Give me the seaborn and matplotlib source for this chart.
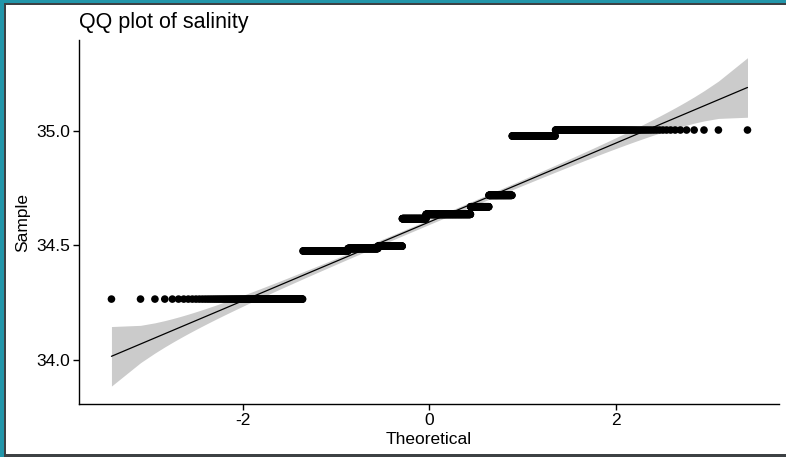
import numpy as np
import pandas as pd
import matplotlib
matplotlib.use("Agg")
import matplotlib.pyplot as plt
import seaborn as sns
from statistics import NormalDist
from matplotlib.patches import Rectangle

# ---- data ----
salinity_levels = [34.266, 34.476, 34.487, 34.497, 34.617, 34.636, 34.669, 34.719, 34.978, 35.004]
level_counts = [135, 161, 154, 147, 155, 287, 105, 115, 154, 137]
x_ticks = [-2, 0, 2]
y_ticks = [34.0, 34.5, 35.0]
title_text = "QQ plot of salinity"
x_label = "Theoretical"
y_label = "Sample"
conf_level = 0.95

# ---- QQ computations (as ggpubr::ggqqplot) ----
sample = np.sort(np.repeat(salinity_levels, level_counts))
n = len(sample)
P = (np.arange(1, n + 1) - 0.5) / n
nd = NormalDist()
z = np.array([nd.inv_cdf(p) for p in P])
q1, q3 = np.quantile(sample, [0.25, 0.75])
z1, z3 = nd.inv_cdf(0.25), nd.inv_cdf(0.75)
slope = (q3 - q1) / (z3 - z1)
intercept = q1 - slope * z1
fit = intercept + slope * z
dens = np.exp(-z ** 2 / 2) / np.sqrt(2 * np.pi)
SE = slope / dens * np.sqrt(P * (1 - P) / n)
zz = nd.inv_cdf(1 - (1 - conf_level) / 2)
df = pd.DataFrame({"theoretical": z, "sample": sample, "fit": fit,
                   "lower": fit - zz * SE, "upper": fit + zz * SE})

# ---- plot ----
sns.set_theme(style="ticks")
plt.rcParams["font.family"] = ["Liberation Sans", "DejaVu Sans"]

fig = plt.figure(figsize=(7.86, 4.57), dpi=100)
fig.patch.set_facecolor("white")
ax = fig.add_axes([79 / 786, 1 - 404 / 457, 700 / 786, 364 / 457])

ax.fill_between(df["theoretical"], df["lower"], df["upper"], color="#cbcbcb", lw=0, zorder=1)
sns.scatterplot(data=df, x="theoretical", y="sample", ax=ax, color="black", s=30,
                edgecolor="none", linewidth=0, zorder=2)
sns.lineplot(data=df, x="theoretical", y="fit", ax=ax, color="black", lw=0.9,
             estimator=None, sort=False, zorder=3)

ax.set_xlim(-3.76, 3.75)
ax.set_ylim(33.808, 35.397)
ax.set_xticks(x_ticks)
ax.set_xticklabels([f"{t:d}" for t in x_ticks])
ax.set_yticks(y_ticks)
ax.set_yticklabels([f"{t:.1f}" for t in y_ticks])
ax.tick_params(axis="both", direction="out", length=4, width=1, color="black",
               labelsize=12.5, labelcolor="black", pad=2.5)
sns.despine(ax=ax)
for s in ("left", "bottom"):
    ax.spines[s].set_color("black")
    ax.spines[s].set_linewidth(1.0)
ax.set_xlabel(x_label, fontsize=12.5, color="black", labelpad=3)
ax.set_ylabel(y_label, fontsize=12.5, color="black", labelpad=4)
ax.set_title(title_text, loc="left", fontsize=15.5, color="black", pad=8.5)
ax.grid(False)

# ---- frame around the picture ----
W, H = 786, 457
teal = "#2296aa"
dark = "#3d4144"
def frect(x, y, w, h, c):
    fig.patches.append(Rectangle((x / W, y / H), w / W, h / H, transform=fig.transFigure,
                                 facecolor=c, edgecolor="none", zorder=10))
frect(0, 0, 4, H, teal)
frect(0, H - 3, W, 3, teal)
frect(4, 0, 2, H - 3, dark)
frect(4, H - 5, W - 4, 2, dark)
frect(4, 0, W - 4, 3, dark)

fig.savefig("out.png", dpi=100)
